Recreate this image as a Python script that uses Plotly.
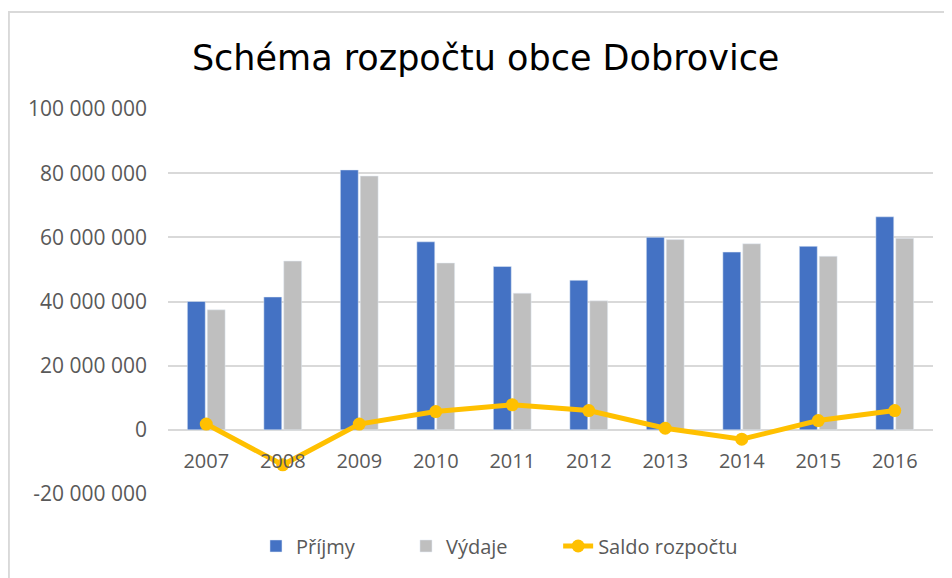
import plotly.graph_objects as go

# data (CZK)
years = ["2007", "2008", "2009", "2010", "2011", "2012", "2013", "2014", "2015", "2016"]
prijmy = [40.0e6, 41.4e6, 81.0e6, 58.6e6, 50.9e6, 46.6e6, 60.0e6, 55.4e6, 57.2e6, 66.4e6]
vydaje = [37.4e6, 52.6e6, 79.1e6, 52.0e6, 42.6e6, 40.2e6, 59.3e6, 58.0e6, 54.1e6, 59.7e6]
saldo = [1.8e6, -10.9e6, 1.8e6, 5.7e6, 7.8e6, 6.0e6, 0.5e6, -2.9e6, 2.9e6, 6.0e6]

y_ticks = [-20e6, 0, 20e6, 40e6, 60e6, 80e6, 100e6]
y_labels = ["-20 000 000", "0", "20 000 000", "40 000 000", "60 000 000", "80 000 000", "100 000 000"]

fig = go.Figure()
fig.add_trace(go.Bar(x=years, y=prijmy, name="Příjmy", marker_color="#4472C4"))
fig.add_trace(go.Bar(x=years, y=vydaje, name="Výdaje", marker_color="#BFBFBF"))
# the line gets its own legend box so the bar entries can be spaced apart
fig.add_trace(go.Scatter(
    x=years, y=saldo, name="Saldo rozpočtu", mode="lines+markers",
    line=dict(color="#FFC000", width=5),
    marker=dict(color="#FFC000", size=13),
    legend="legend2",
))

# the page body adds an 8px margin, so the figure is 8px smaller
fig.update_layout(
    width=944, height=570,
    margin=dict(l=160, r=19, t=101, b=84),
    paper_bgcolor="white", plot_bgcolor="white",
    font=dict(family="Open Sans", size=20, color="#595959"),
    title=dict(text="Schéma rozpočtu obce Dobrovice", x=0.506, xanchor="center",
               y=0.912, yanchor="middle", yref="container",
               font=dict(family="DejaVu Sans", size=35, color="#000000")),
    barmode="group", bargap=0.48, bargroupgap=0.1,
    legend=dict(orientation="h", x=0.115, xanchor="left", y=-0.135, yanchor="middle",
                font=dict(size=20, color="#595959"), entrywidth=105),
    legend2=dict(orientation="h", x=0.51, xanchor="left", y=-0.135, yanchor="middle",
                 font=dict(size=20, color="#595959")),
    showlegend=True,
)
# category labels sit just under the zero line, not under the plot
fig.update_xaxes(range=[-0.5, 9.5], showgrid=False, showline=False, ticks="",
                 tickfont=dict(size=20), anchor="free", position=0.169,
                 ticklabelstandoff=18)
fig.update_yaxes(range=[-20e6, 100e6], tickvals=y_ticks, ticktext=y_labels,
                 gridcolor="#D9D9D9", gridwidth=1.5, zeroline=True,
                 zerolinecolor="#D9D9D9", zerolinewidth=1.5,
                 showline=False, ticks="", ticklabelstandoff=20, tickfont=dict(size=21))

# outer chart frame, partially visible in the reference
fig.add_shape(type="rect", xref="paper", yref="paper",
              x0=-0.208, x1=1.08, y0=-0.4, y1=1.252,
              line=dict(color="#D9D9D9", width=2), layer="below")

fig.write_html("out.html")
